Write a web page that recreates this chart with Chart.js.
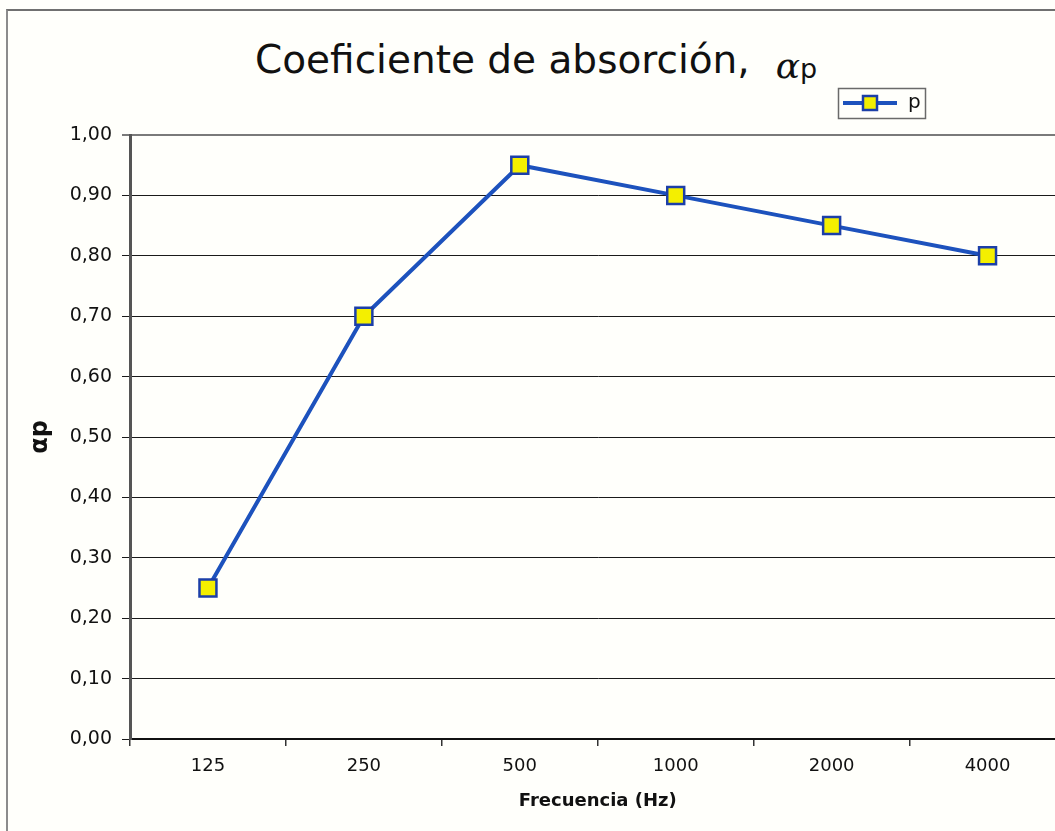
<!DOCTYPE html>
<html>
<head>
<meta charset="utf-8">
<script src="https://cdn.jsdelivr.net/npm/chart.js@4.4.1/dist/chart.umd.min.js"></script>
<style>
html,body{margin:0;padding:0;overflow:hidden;background:#fffffb;}
#wrap{position:relative;width:1080px;height:831px;}
#frame{position:absolute;left:6px;top:9px;width:1100px;height:900px;border-left:2px solid #8c8c8c;border-top:2px solid #707070;}
#title{position:absolute;left:255px;top:40px;white-space:nowrap;font-family:"DejaVu Sans",sans-serif;font-size:39px;line-height:39px;color:#111;}
#title .al{font-family:"DejaVu Serif","Liberation Serif",serif;font-style:italic;font-size:36px;margin-left:26px;position:relative;top:5px;}
#title .sub{font-size:27px;position:relative;top:5px;}
canvas{position:absolute;left:0;top:0;}
</style>
</head>
<body>
<div id="wrap">
  <div id="frame"></div>
  <div id="title">Coeficiente de absorción,<span class="al">α</span><span class="sub">p</span></div>
  <canvas id="c" width="1080" height="831"></canvas>
</div>
<script>
// ---- data ----
const categories = ['125', '250', '500', '1000', '2000', '4000'];
const alphaP = [0.25, 0.70, 0.95, 0.90, 0.85, 0.80];
const seriesLabel = 'p';
const yMin = 0, yMax = 1, yStep = 0.1;
const xTitle = 'Frecuencia (Hz)';
const yTitle = 'αp';

// ---- styles ----
const LINE = '#1d52bd';
const MARK_BORDER = '#1c3fa8';
const MARK_FILL = '#f4ef00';
const FONT = '"DejaVu Sans", sans-serif';

function legendSymbol() {
  const c = document.createElement('canvas');
  c.width = 56; c.height = 18;
  const g = c.getContext('2d');
  g.strokeStyle = LINE; g.lineWidth = 4;
  g.beginPath(); g.moveTo(1, 9); g.lineTo(55, 9); g.stroke();
  g.fillStyle = MARK_FILL; g.fillRect(21, 2, 14, 14);
  g.strokeStyle = MARK_BORDER; g.lineWidth = 2.5; g.strokeRect(21, 2, 14, 14);
  return c;
}

const legendPlacer = {
  id: 'legendPlacer',
  afterLayout(chart) {
    const lg = chart.legend;
    if (!lg) return;
    const w = lg.width, h = lg.height;
    lg.left = 834; lg.top = 85; lg.right = lg.left + w; lg.bottom = lg.top + h;
  },
  afterDraw(chart) {
    const lg = chart.legend;
    if (!lg || !lg.legendHitBoxes || !lg.legendHitBoxes.length) return;
    const hb = lg.legendHitBoxes[0];
    const ctx = chart.ctx;
    ctx.save();
    ctx.strokeStyle = '#6a6a6a';
    ctx.lineWidth = 1.5;
    ctx.strokeRect(Math.round(hb.left - 4) + 0.5, Math.round(hb.top - 5) + 0.5, Math.round(hb.width + 8), Math.round(hb.height + 10));
    ctx.restore();
  }
};

new Chart(document.getElementById('c'), {
  type: 'line',
  data: {
    labels: categories,
    datasets: [{
      label: seriesLabel,
      data: alphaP,
      borderColor: LINE,
      borderWidth: 4,
      tension: 0,
      pointStyle: 'rect',
      pointRadius: 12,
      pointHoverRadius: 12,
      pointBackgroundColor: MARK_FILL,
      pointBorderColor: MARK_BORDER,
      pointBorderWidth: 2.5
    }]
  },
  options: {
    responsive: false,
    animation: false,
    layout: { padding: { top: 135, left: 0, right: 14, bottom: 0 } },
    plugins: {
      title: { display: false },
      tooltip: { enabled: false },
      legend: {
        display: true,
        position: 'chartArea',
        align: 'start',
        labels: {
          usePointStyle: true,
          pointStyle: legendSymbol(),
          pointStyleWidth: 56,
          padding: 8,
          color: '#111',
          font: { family: FONT, size: 20 }
        }
      }
    },
    scales: {
      x: {
        offset: true,
        grid: { display: true, drawOnChartArea: false, drawTicks: true, tickLength: 7, offset: true, color: '#333', lineWidth: 1.5 },
        border: { display: true, color: '#111', width: 2 },
        ticks: { color: '#111', padding: 10, font: { family: FONT, size: 18 }, maxRotation: 0 },
        title: { display: true, text: xTitle, color: '#111', font: { family: FONT, size: 18, weight: 'bold' }, padding: { top: 0, bottom: 19 } },
        afterFit(s) { s.height = 92; }
      },
      y: {
        min: yMin,
        max: yMax,
        ticks: {
          stepSize: yStep,
          color: '#111',
          padding: 10,
          font: { family: FONT, size: 19 },
          callback: v => Number(v).toFixed(2).replace('.', ',')
        },
        grid: {
          color: c => (c.tick && Math.abs(c.tick.value - 1) < 1e-6) ? '#7a7a7a' : '#1a1a1a',
          lineWidth: c => (c.tick && Math.abs(c.tick.value - 1) < 1e-6) ? 2 : 1,
          tickLength: 8
        },
        border: { display: true, color: '#555', width: 3 },
        title: { display: true, text: yTitle, color: '#111', font: { family: FONT, size: 24, weight: 'bold' }, padding: { top: 26, bottom: 0 } },
        afterFit(s) { s.width = 130; }
      }
    }
  },
  plugins: [legendPlacer]
});
</script>
</body>
</html>
